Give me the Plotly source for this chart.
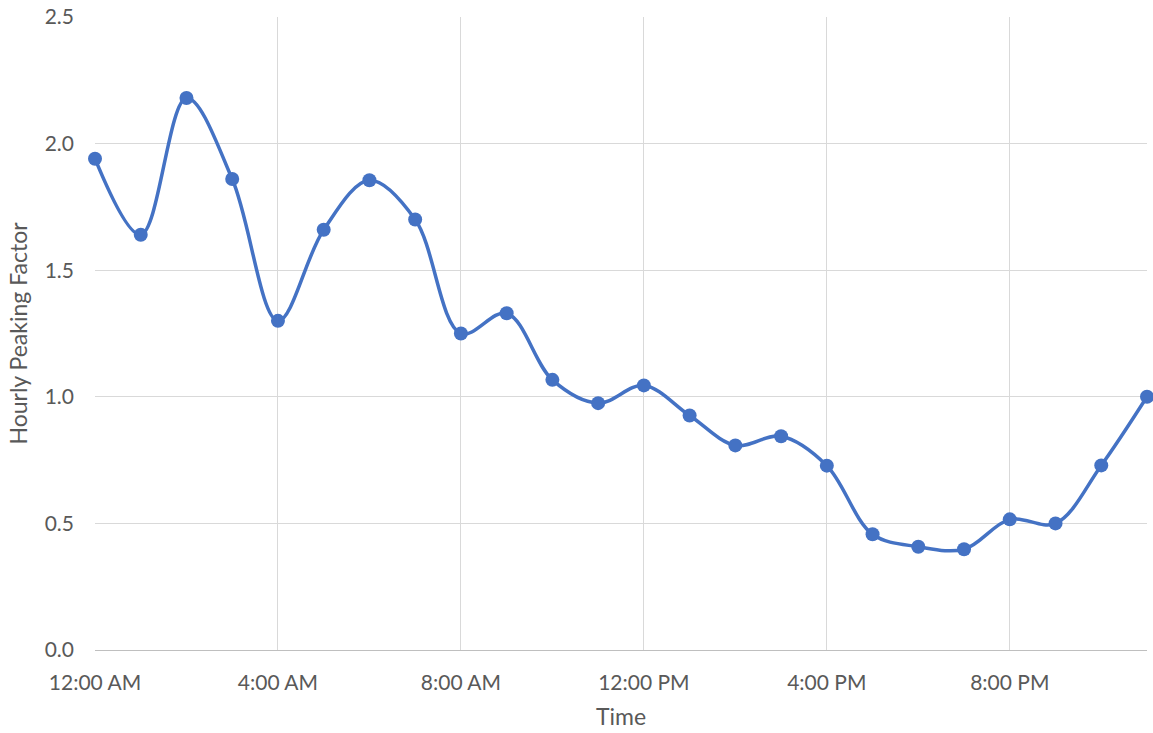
import plotly.graph_objects as go

# Hour of day (0 = 12:00 AM) and hourly peaking factor
hours = list(range(24))
peaking_factor = [1.94, 1.64, 2.18, 1.86, 1.30, 1.66, 1.855, 1.70,
                  1.25, 1.33, 1.067, 0.975, 1.045, 0.926, 0.808, 0.844,
                  0.728, 0.457, 0.408, 0.398, 0.516, 0.50, 0.729, 1.0]

tick_hours = [0, 4, 8, 12, 16, 20]
tick_labels = ["12:00 AM", "4:00 AM", "8:00 AM", "12:00 PM", "4:00 PM", "8:00 PM"]

font_family = "Lato, 'Open Sans', sans-serif"
text_color = "#595959"
grid_color = "#D9D9D9"

fig = go.Figure()
fig.add_trace(go.Scatter(
    x=hours,
    y=peaking_factor,
    mode="lines+markers",
    line=dict(color="#4472C4", width=3.5, shape="spline", smoothing=1),
    marker=dict(color="#4472C4", size=14),
    cliponaxis=False,
    showlegend=False,
))

fig.update_layout(
    width=1153, height=733,
    margin=dict(l=95, r=6, t=17, b=83),
    paper_bgcolor="white",
    plot_bgcolor="white",
    font=dict(family=font_family, size=21, color=text_color),
    xaxis=dict(
        range=[0, 23],
        tickvals=tick_hours,
        ticktext=tick_labels,
        showgrid=True, gridcolor=grid_color, gridwidth=1,
        zeroline=False,
        showline=False,
        ticks="",
        ticklabelstandoff=18,
        automargin=False,
        title=dict(text="Time", font=dict(size=23), standoff=15),
    ),
    yaxis=dict(
        range=[0, 2.5],
        tickvals=[0, 0.5, 1.0, 1.5, 2.0, 2.5],
        tickformat=".1f",
        showgrid=True, gridcolor=grid_color, gridwidth=1,
        zeroline=True, zerolinecolor="#BFBFBF", zerolinewidth=1,
        showline=False,
        ticks="",
        ticklabelstandoff=20,
        ticklabeloverflow="allow",
        automargin=False,
        title=dict(text="Hourly Peaking Factor", font=dict(size=23), standoff=10),
    ),
)

# drop the default page margin so the figure fills the window
fig.write_html("out.html", config={"displayModeBar": False},
               post_script="document.body.style.margin='0';")
